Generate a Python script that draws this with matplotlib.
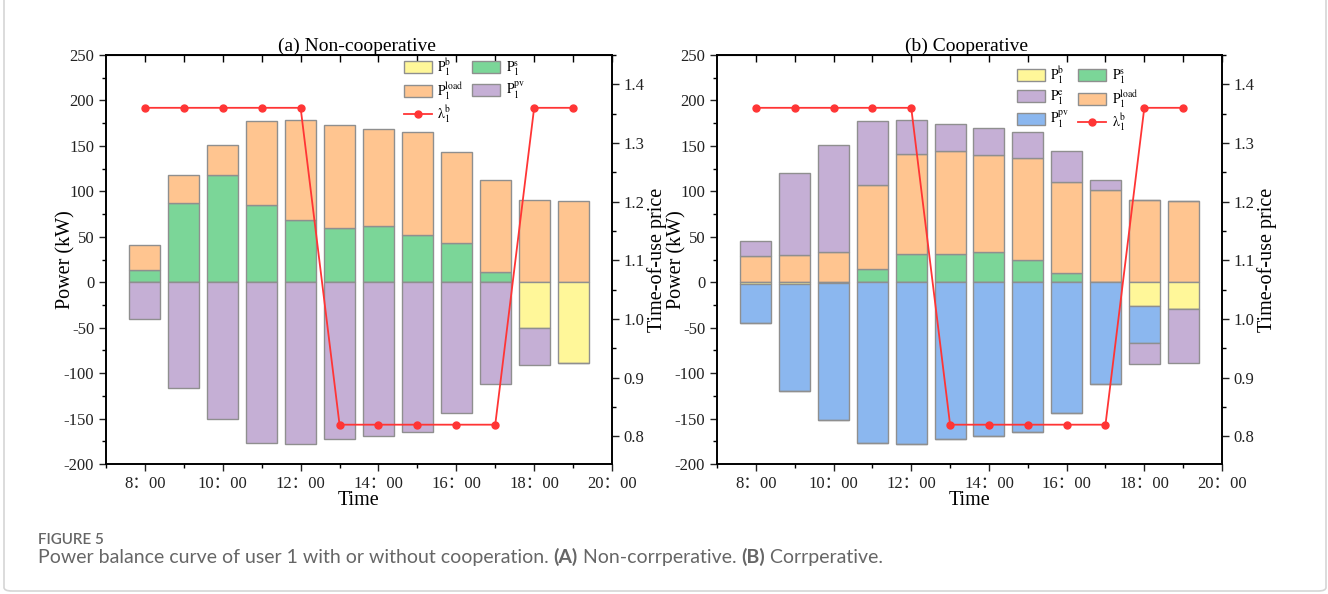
import numpy as np
import matplotlib
matplotlib.use("Agg")
import matplotlib.pyplot as plt
from matplotlib.patches import Patch, FancyBboxPatch
from matplotlib.lines import Line2D
from matplotlib.ticker import MultipleLocator

plt.rcParams['font.family'] = ['Liberation Serif', 'Noto Sans CJK SC']
plt.rcParams['mathtext.fontset'] = 'stix'
plt.rcParams['axes.unicode_minus'] = False

# hours 8:00 ... 19:00
hours = np.arange(8, 20)
tick_hours = [8, 10, 12, 14, 16, 18, 20]
tick_labels = ["8：00", "10：00", "12：00", "14：00", "16：00", "18：00", "20：00"]

# time-of-use price
price = [1.36, 1.36, 1.36, 1.36, 1.36, 0.82, 0.82, 0.82, 0.82, 0.82, 1.36, 1.36]

# user load (same in both cases)
p_load = [28.5, 30.5, 33, 92, 110.5, 113.5, 107, 112.5, 100.5, 101.5, 91, 89]

# (a) non-cooperative
a_ps = [13, 87, 118, 85, 68, 60, 62, 52.5, 43, 11, 0, 0]
a_pb = [0, 0, 0, 0, 0, 0, 0, 0, 0, 0, -50.5, -89]
a_ppv = [-40.5, -116.5, -150, -177, -178.5, -172.5, -169.5, -165, -143.5, -111.5, -40.5, 0]

# (b) cooperative
b_ps = [0, 0, 0, 15, 31, 31, 33.5, 24, 10, 0, 0, 0]
b_pb = [-2.5, -2.5, -1, 0, 0, 0, 0, 0, 0, 0, -26.5, -29]
b_ppv = [-42, -117.5, -150.5, -177, -178.5, -172.5, -169.5, -165, -143.5, -111.5, -40, 0]
b_pe = [16.5, 89.5, 118.5, 70, 37.5, 29.5, 29, 28.5, 34, 10.5, -24, -60]

c_yel = '#FFF799'
c_grn = '#7BD698'
c_org = '#FFC590'
c_pur = '#C5AFD5'
c_blu = '#8BB7EF'
c_red = '#FF3535'
edge = '#8F8F8F'

fig = plt.figure(figsize=(13.28, 5.94), dpi=100)

# light frame round the figure
frame = FancyBboxPatch((4 / 1328, 3 / 594), 1322 / 1328, 620 / 594,
                       boxstyle="round,pad=0,rounding_size=0.006",
                       transform=fig.transFigure, fill=False,
                       edgecolor='#D5D5D5', linewidth=1.2, clip_on=False)
fig.patches.append(frame)


def style_axes(ax, ax2, title):
    ax.set_xlim(7, 20)
    ax.set_ylim(-200, 250)
    ax.set_xticks(tick_hours)
    ax.set_xticklabels(tick_labels)
    ax.xaxis.set_minor_locator(MultipleLocator(1))
    ax.yaxis.set_major_locator(MultipleLocator(50))
    ax.yaxis.set_minor_locator(MultipleLocator(25))
    ax.tick_params(axis='both', which='major', direction='out', length=5, width=1,
                   labelsize=12, colors='#222222')
    ax.tick_params(axis='both', which='minor', direction='out', length=3, width=1)
    top = ax.secondary_xaxis('top')
    top.set_xticks(np.arange(8, 21))
    top.tick_params(direction='in', length=5, width=1, labeltop=False)
    ax.set_xlabel("Time", fontsize=14.5)
    ax.xaxis.set_label_coords(0.5, -0.066)
    ax.set_ylabel("Power (kW)", fontsize=14.5, va='center')
    ax.yaxis.set_label_coords(-0.079, 0.5)
    ax.set_title(title, fontsize=14, pad=2, x=0.495)

    ax2.set_ylim(0.753, 1.45)
    ax2.yaxis.set_major_locator(MultipleLocator(0.1))
    ax2.yaxis.set_minor_locator(MultipleLocator(0.05))
    ax2.tick_params(axis='y', which='major', direction='out', length=5, width=1,
                    labelsize=12, colors='#222222')
    ax2.tick_params(axis='y', which='minor', direction='out', length=3, width=1)
    ax2.set_ylabel("Time-of-use price", fontsize=14.5, va='center')
    ax2.yaxis.set_label_coords(1.09, 0.5)
    for a in (ax, ax2):
        for s in a.spines.values():
            s.set_linewidth(1.2)


bw = 0.8
kw = dict(width=bw, edgecolor=edge, linewidth=1.0)
leg_kw = dict(ncol=2, frameon=False, loc='upper left', fontsize=10,
              handlelength=2.0, handleheight=0.95, columnspacing=0.6,
              handletextpad=0.4, labelspacing=0.15, borderpad=0.2)

# ---------- (a) Non-cooperative
ax1 = fig.add_axes([106 / 1328, 1 - 464 / 594, 506 / 1328, 409 / 594])
ps = np.array(a_ps)
ax1.bar(hours, ps, color=c_grn, **kw)
ax1.bar(hours, p_load, bottom=ps, color=c_org, **kw)
pb = np.array(a_pb)
ax1.bar(hours, pb, color=c_yel, **kw)
ax1.bar(hours, a_ppv, bottom=pb, color=c_pur, **kw)
ax1b = ax1.twinx()
ax1b.plot(hours, price, color=c_red, marker='o', markersize=5, linewidth=1.3)
style_axes(ax1, ax1b, "(a) Non-cooperative")

h_pb = Patch(facecolor=c_yel, edgecolor=edge, label=r'$\mathrm{P_1^b}$')
h_ps = Patch(facecolor=c_grn, edgecolor=edge, label=r'$\mathrm{P_1^s}$')
h_ld = Patch(facecolor=c_org, edgecolor=edge, label=r'$\mathrm{P_1^{load}}$')
h_pv_a = Patch(facecolor=c_pur, edgecolor=edge, label=r'$\mathrm{P_1^{pv}}$')
h_lam = Line2D([], [], color=c_red, marker='o', markersize=5, linewidth=1.3,
               label=r'$\mathrm{\lambda_1^b}$')
ax1b.legend(handles=[h_pb, h_ld, h_lam, h_ps, h_pv_a],
            bbox_to_anchor=(0.57, 1.02), **leg_kw)

# ---------- (b) Cooperative
ax2 = fig.add_axes([717 / 1328, 1 - 464 / 594, 505 / 1328, 409 / 594])
ps = np.array(b_ps)
ld = np.array(p_load)
pe = np.array(b_pe)
ax2.bar(hours, ps, color=c_grn, **kw)
ax2.bar(hours, ld, bottom=ps, color=c_org, **kw)
pe_pos = np.where(pe > 0, pe, 0)
ax2.bar(hours, pe_pos, bottom=ps + ld, color=c_pur, **kw)
pb = np.array(b_pb)
pv = np.array(b_ppv)
ax2.bar(hours, pb, color=c_yel, **kw)
ax2.bar(hours, pv, bottom=pb, color=c_blu, **kw)
pe_neg = np.where(pe < 0, pe, 0)
ax2.bar(hours, pe_neg, bottom=pb + pv, color=c_pur, **kw)
ax2b = ax2.twinx()
ax2b.plot(hours, price, color=c_red, marker='o', markersize=5, linewidth=1.3)
style_axes(ax2, ax2b, "(b) Cooperative")

h_pe = Patch(facecolor=c_pur, edgecolor=edge, label=r'$\mathrm{P_1^e}$')
h_pv_b = Patch(facecolor=c_blu, edgecolor=edge, label=r'$\mathrm{P_1^{pv}}$')
ax2b.legend(handles=[h_pb, h_pe, h_pv_b, h_ps, h_ld, h_lam],
            bbox_to_anchor=(0.575, 1.0), **leg_kw)

# caption, drawn piece by piece so the bold parts stay in the sans font
fig.text(38 / 1328, 1 - 540 / 594, "FIGURE 5", fontsize=11, color='#666666',
         family='Lato', va='center', fontweight='semibold')
pieces = [("Power balance curve of user 1 with or without cooperation. ", 'normal'),
          ("(A)", 'bold'), (" Non-corrperative. ", 'normal'),
          ("(B)", 'bold'), (" Corrperative.", 'normal')]
fig.canvas.draw()
r = fig.canvas.get_renderer()
xpos = 38
for txt, wt in pieces:
    t = fig.text(xpos / 1328, 1 - 557 / 594, txt, fontsize=14.0, color='#666666',
                 family='Lato', fontweight=wt, va='center')
    xpos += t.get_window_extent(renderer=r).width

fig.savefig("out.png", dpi=100)
